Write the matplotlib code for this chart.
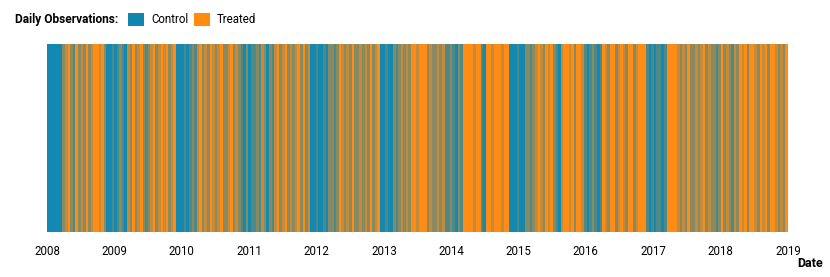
import matplotlib
matplotlib.use("Agg")
import matplotlib.pyplot as plt
import matplotlib.dates as mdates
from matplotlib.patches import Patch
import numpy as np

# share of treated days in each 14-day bin
# B = all control, b = mostly control, m = mixed, o = mostly treated, O = all treated
start_date = "2008-01-01"
bin_days = 14
bins = ("BBBBBB" "moOmbOmomOmo" "OOoO" "mBBbBbmbB" "omOmoOmbmoOmo" "OoOmoO"
        "BBBb" "Bbmb" "oOmomOomoOmmoOmom" "bBmBbb" "mbomBmb" "oOmoOmomoOmOmo"
        "BBbBBbBm" "mbm" "OomomOmmomomOmoO" "BBbBBmb" "momom" "OOoOOO"
        "mommomob" "bmbBmb" "OOOOoOO" "bB" "OOoOOOoOO" "BBBbBBm" "mbmo"
        "OomOoOm" "bBo" "OOoOmOOo" "bBbmbBb" "OomOOmoOomOOmoO" "OO" "bBbBbbBb"
        "OOOO" "omomOmmomoOmom" "mbmOmombom" "OoOmOOomOoOmOOomomO")
share_of = {"B": 0.0, "b": 0.25, "m": 0.5, "o": 0.75, "O": 1.0}
years = list(range(2008, 2020))

control_col = np.array(matplotlib.colors.to_rgb("#1388b0"))
treated_col = np.array(matplotlib.colors.to_rgb("#ff8c14"))


def main():
    dates = np.datetime64(start_date) + np.arange(len(bins)) * np.timedelta64(bin_days, "D")
    shares = np.array([share_of[c] for c in bins])
    colors = [tuple(control_col * (1 - s) + treated_col * s) for s in shares]

    fig = plt.figure(figsize=(8.3, 2.77), dpi=100)
    ax = fig.add_axes([0.0566, 0.162, 0.8928, 0.679])
    ax.bar(dates, np.ones(len(bins)), width=bin_days, align="edge", color=colors, linewidth=0)
    ax.set_xlim(np.datetime64("2008-01-01"), np.datetime64("2019-01-01"))
    ax.set_ylim(0, 1)
    ax.set_yticks([])
    ax.set_xticks([np.datetime64(f"{y}-01-01") for y in years])
    ax.xaxis.set_major_formatter(mdates.DateFormatter("%Y"))
    ax.tick_params(axis="x", length=0, pad=9, labelsize=8.3)
    for lab in ax.get_xticklabels():
        lab.set_fontfamily("Roboto")
    for s in ax.spines.values():
        s.set_visible(False)

    fig.text(0.992, 0.025, "Date", ha="right", va="bottom", fontsize=9,
             fontweight="bold", family="Roboto")
    fig.text(0.018, 0.93, "Daily Observations:", ha="left", va="center", fontsize=8.6,
             fontweight="bold", family="Roboto")
    handles = [Patch(facecolor="#0f86ad", label="Control"),
               Patch(facecolor="#ff8c0f", label="Treated")]
    fig.legend(handles=handles, loc="center left", bbox_to_anchor=(0.154, 0.93), ncol=2,
               frameon=False, handlelength=1.4, handleheight=1.4, handletextpad=0.6,
               columnspacing=0.5, borderpad=0, borderaxespad=0,
               prop={"family": "Roboto", "size": 8.3})

    fig.savefig("out.png", dpi=100)


if __name__ == "__main__":
    main()
